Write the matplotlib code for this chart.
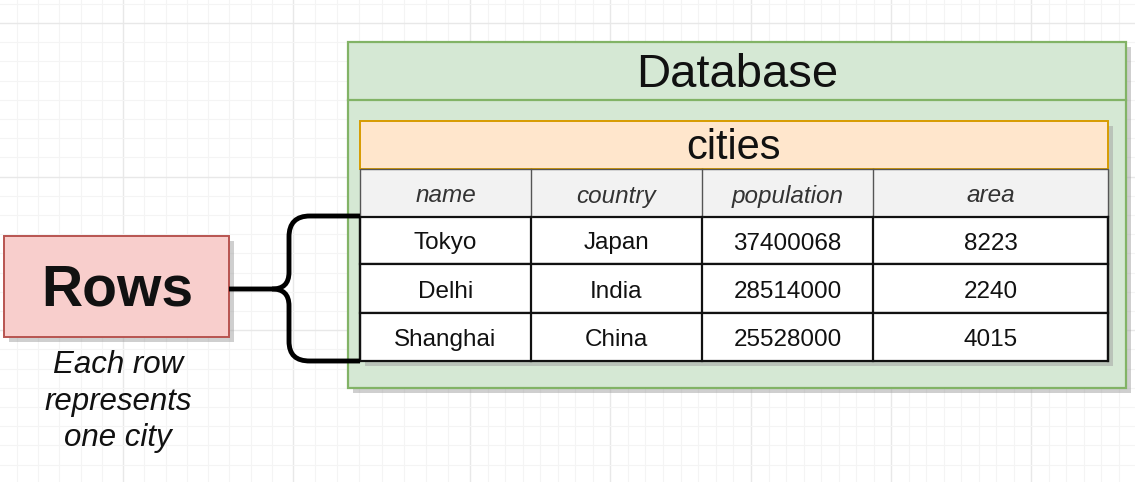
import matplotlib
matplotlib.use("Agg")
import matplotlib.patches as mpatches
import matplotlib.pyplot as plt
from matplotlib.path import Path

# table content
columns = ["name", "country", "population", "area"]
cities = ["Tokyo", "Delhi", "Shanghai"]
countries = ["Japan", "India", "China"]
populations = [37400068, 28514000, 25528000]
areas = [8223, 2240, 4015]

W, H = 1135, 482
FONT = "Liberation Sans"

fig = plt.figure(figsize=(W / 100, H / 100), dpi=100)
ax = fig.add_axes([0, 0, 1, 1])
ax.set_xlim(0, W)
ax.set_ylim(H, 0)
ax.axis("off")

# background grid (draw.io style)
vmajor = [-47, 123, 293, 470, 610, 751, 891, 1031, 1171]
for a, b in zip(vmajor[:-1], vmajor[1:]):
    for k in range(8):
        x = a + (b - a) * k / 8
        ax.axvline(x, color="#e8e8e8" if k == 0 else "#f4f4f4", lw=1.0 if k == 0 else 0.8, zorder=0)
y = 23 - 19.2 * 2
k = -2
while y < H:
    ax.axhline(y, color="#e8e8e8" if k % 8 == 0 else "#f4f4f4", lw=1.0 if k % 8 == 0 else 0.8, zorder=0)
    y += 19.2
    k += 1


def box(x0, y0, x1, y1, fc, ec, lw=1.5, shadow=True, z=1):
    if shadow:
        ax.add_patch(mpatches.Rectangle((x0 + 5, y0 + 5), x1 - x0, y1 - y0,
                                        facecolor="#a0a0a0", edgecolor="none", alpha=0.5, zorder=z))
    ax.add_patch(mpatches.Rectangle((x0, y0), x1 - x0, y1 - y0,
                                    facecolor=fc, edgecolor=ec, lw=lw, zorder=z + 0.1))


# database container
box(348, 42, 1126, 388, "#d5e8d4", "#82b366", lw=1.6, z=1)
ax.plot([348, 1126], [100, 100], color="#82b366", lw=1.6, zorder=2)
ax.text(737, 75, "Database", ha="center", va="center", fontsize=34, family=FONT, color="#111111", zorder=5)

# cities table
col_x = [360, 531, 702, 873, 1108]
box(360, 121, 1108, 361, "#ffffff", "none", shadow=True, z=2)
ax.add_patch(mpatches.Rectangle((360, 121), 748, 48, facecolor="#ffe6cc", edgecolor="#d79b00", lw=1.4, zorder=3))
ax.text(734, 148, "cities", ha="center", va="center", fontsize=30, family=FONT, color="#111111", zorder=5)

ax.add_patch(mpatches.Rectangle((360, 169), 748, 48, facecolor="#f2f2f2", edgecolor="#555555", lw=1.0, zorder=3))
row_y = [217, 264, 313, 361]
for i in range(3):
    ax.add_patch(mpatches.Rectangle((360, row_y[i]), 748, row_y[i + 1] - row_y[i],
                                    facecolor="#ffffff", edgecolor="#111111", lw=1.6, zorder=3))
for x in col_x[1:-1]:
    ax.plot([x, x], [169, 217], color="#555555", lw=1.0, zorder=4)
    ax.plot([x, x], [217, 361], color="#111111", lw=1.6, zorder=4)
ax.plot([360, 360], [217, 361], color="#111111", lw=1.6, zorder=4)
ax.plot([1108, 1108], [217, 361], color="#111111", lw=1.6, zorder=4)

for j, name in enumerate(columns):
    cx = (col_x[j] + col_x[j + 1]) / 2
    ax.text(cx, 196, name, ha="center", va="center", fontsize=17.5, style="italic",
            family=FONT, color="#333333", zorder=5)

for i in range(3):
    cy = (row_y[i] + row_y[i + 1]) / 2 + 3
    vals = [cities[i], countries[i], str(populations[i]), str(areas[i])]
    for j, v in enumerate(vals):
        cx = (col_x[j] + col_x[j + 1]) / 2
        ax.text(cx, cy, v, ha="center", va="center", fontsize=17.5, family=FONT,
                color="#111111", zorder=5)

# "Rows" label box
box(4, 236, 229, 337, "#f8cecc", "#b85450", lw=1.4, z=2)
ax.text(117, 291, "Rows", ha="center", va="center", fontsize=41, fontweight="bold",
        family=FONT, color="#111111", zorder=5)
for t, yy in zip(["Each row", "represents", "one city"], [365, 402, 438]):
    ax.text(118, yy, t, ha="center", va="center", fontsize=22.5, style="italic",
            family=FONT, color="#111111", zorder=5)

# curly brace from the label to the rows
verts = [
    (360, 216), (310, 216),
    (296, 216), (289, 223), (289, 237),
    (289, 272),
    (289, 284), (283, 289), (272, 289),
    (229, 289),
]
codes = [Path.MOVETO, Path.LINETO,
         Path.CURVE4, Path.CURVE4, Path.CURVE4,
         Path.LINETO,
         Path.CURVE4, Path.CURVE4, Path.CURVE4,
         Path.LINETO]
ax.add_patch(mpatches.PathPatch(Path(verts, codes), facecolor="none", edgecolor="black",
                                lw=3.5, capstyle="butt", joinstyle="round", zorder=6))
verts2 = [
    (272, 289),
    (283, 289), (289, 294), (289, 306),
    (289, 341),
    (289, 355), (296, 361), (310, 361),
    (360, 361),
]
codes2 = [Path.MOVETO,
          Path.CURVE4, Path.CURVE4, Path.CURVE4,
          Path.LINETO,
          Path.CURVE4, Path.CURVE4, Path.CURVE4,
          Path.LINETO]
ax.add_patch(mpatches.PathPatch(Path(verts2, codes2), facecolor="none", edgecolor="black",
                                lw=3.5, capstyle="butt", joinstyle="round", zorder=6))

fig.savefig("out.png", dpi=100)
